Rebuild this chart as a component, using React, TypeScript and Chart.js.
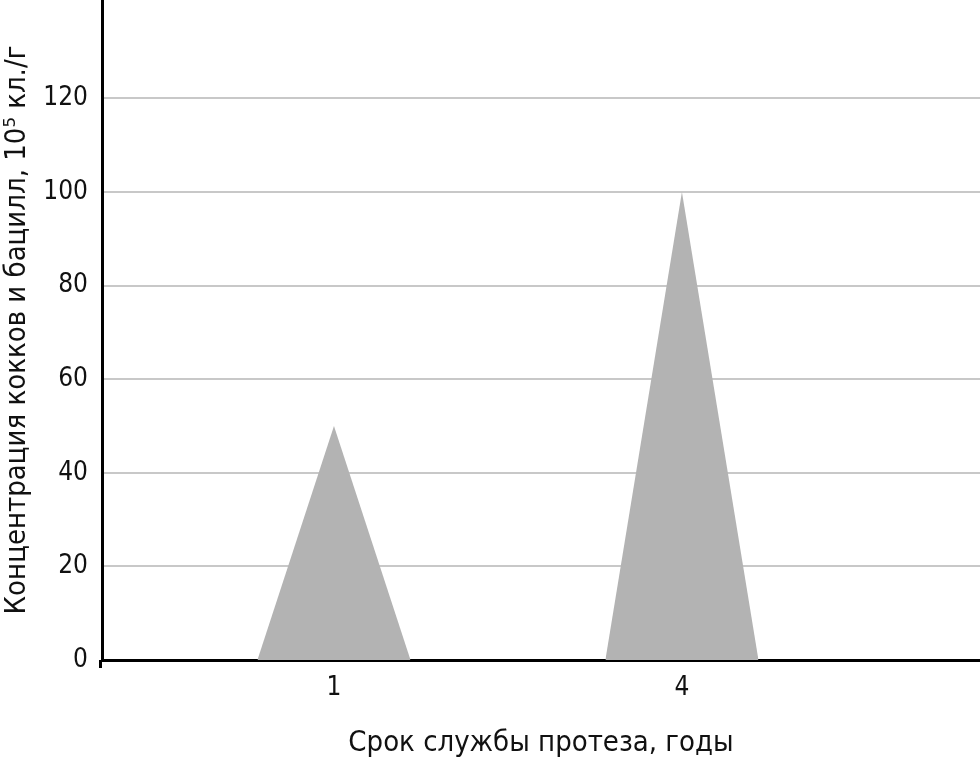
import React, { useEffect, useRef } from "react";
import { Chart, registerables } from "chart.js";

Chart.register(...registerables);

const years = [1, 4];
const concentrations = [50, 100];
const yTicks = [0, 20, 40, 60, 80, 100, 120];
const xTicks = [1, 4];
const peakHalfWidth = 0.66;

const FONT = "'Liberation Sans Narrow', 'DejaVu Sans Condensed', 'Roboto Condensed', 'Roboto', sans-serif";

const axisStub = {
  id: "axisStub",
  afterDraw(chart: any) {
    const { ctx, chartArea } = chart;
    ctx.save();
    ctx.strokeStyle = "#000";
    ctx.lineWidth = 3;
    ctx.beginPath();
    ctx.moveTo(chartArea.left - 1.5, chartArea.bottom);
    ctx.lineTo(chartArea.left - 1.5, chartArea.bottom + 8);
    ctx.stroke();
    ctx.restore();
  },
};

export default function App() {
  const ref = useRef<HTMLCanvasElement | null>(null);

  useEffect(() => {
    document.body.style.margin = "0";
    const canvas = ref.current;
    if (!canvas) return;

    const datasets = years.map((yr, i) => ({
      label: String(yr),
      data: [
        { x: yr - peakHalfWidth, y: 0 },
        { x: yr, y: concentrations[i] },
        { x: yr + peakHalfWidth, y: 0 },
      ],
      fill: "origin",
      backgroundColor: "#b3b3b3",
      borderWidth: 0,
      borderColor: "rgba(0,0,0,0)",
      pointRadius: 0,
      tension: 0,
    }));

    const chart = new Chart(canvas, {
      type: "line",
      data: { datasets },
      plugins: [axisStub],
      options: {
        animation: false,
        responsive: true,
        maintainAspectRatio: false,
        layout: { padding: 0 },
        plugins: {
          legend: { display: false },
          tooltip: { enabled: false },
        },
        scales: {
          x: {
            type: "linear",
            min: -1,
            max: 6.57,
            afterBuildTicks: (scale: any) => {
              scale.ticks = xTicks.map((v) => ({ value: v }));
            },
            afterFit: (scale: any) => {
              scale.height = 101;
              scale.paddingLeft = 0;
              scale.paddingRight = 0;
            },
            grid: { display: false, drawTicks: false },
            border: { display: true, color: "#000", width: 3 },
            ticks: {
              padding: 13,
              color: "#111",
              font: { family: FONT, size: 26 },
              callback: (v: any) => String(v),
            },
            title: {
              display: true,
              text: "Срок службы протеза, годы",
              color: "#111",
              font: { family: FONT, size: 29 },
              padding: { top: 0, bottom: 0 },
            },
          },
          y: {
            type: "linear",
            min: 0,
            max: 141,
            afterBuildTicks: (scale: any) => {
              scale.ticks = yTicks.map((v) => ({ value: v }));
            },
            afterFit: (scale: any) => {
              scale.width = 102;
              scale.paddingTop = 0;
              scale.paddingBottom = 0;
            },
            grid: { color: "#c8c8c8", lineWidth: 2, drawTicks: false },
            border: { display: true, color: "#000", width: 3 },
            ticks: {
              padding: 14,
              color: "#111",
              font: { family: FONT, size: 26 },
            },
            title: {
              display: true,
              text: "Концентрация кокков и бацилл, 10⁵ кл./г",
              color: "#111",
              font: { family: FONT, size: 29 },
              padding: { top: 0, bottom: 0 },
            },
          },
        },
      },
    });

    return () => chart.destroy();
  }, []);

  return (
    <div style={{ width: 980, height: 761, position: "relative" }}>
      <canvas ref={ref} />
    </div>
  );
}
